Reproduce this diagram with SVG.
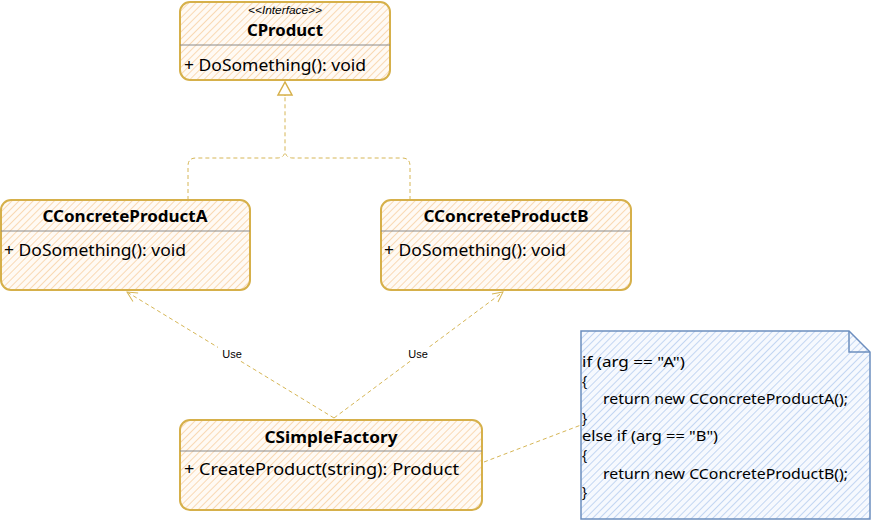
<svg xmlns="http://www.w3.org/2000/svg" width="871" height="521" viewBox="0 0 871 521">
  <defs>
    <pattern id="hatchOrange" width="5" height="5" patternUnits="userSpaceOnUse" patternTransform="rotate(45)">
      <rect width="5" height="5" fill="#fffaf4"/>
      <line x1="0" y1="0" x2="0" y2="5" stroke="#f9d9b4" stroke-width="2"/>
    </pattern>
    <pattern id="hatchBlue" width="5" height="5" patternUnits="userSpaceOnUse" patternTransform="rotate(45)">
      <rect width="5" height="5" fill="#f6f9fe"/>
      <line x1="0" y1="0" x2="0" y2="5" stroke="#c3d6f2" stroke-width="2"/>
    </pattern>
    <marker id="openArrow" viewBox="0 0 12 12" refX="11" refY="6" markerWidth="12" markerHeight="12" markerUnits="userSpaceOnUse" orient="auto">
      <path d="M1,1 L11,6 L1,11" fill="none" stroke="#d6b656" stroke-width="1"/>
    </marker>
  </defs>
  <style>
    .box { fill: url(#hatchOrange); stroke: #d6b04a; stroke-width: 2; }
    .div { stroke: #8a8a8a; stroke-width: 1; }
    .title { font-family: "Comic Sans MS", "Noto Sans", sans-serif; font-size: 16px; font-weight: bold; fill: #000; text-anchor: middle; }
    .member { font-family: "Comic Sans MS", "Noto Sans", sans-serif; font-size: 16px; fill: #000; }
    .stereo { font-family: "Liberation Sans", Arial, sans-serif; font-size: 10px; font-style: italic; fill: #000; text-anchor: middle; }
    .link { fill: none; stroke: #d6b656; stroke-width: 1; stroke-dasharray: 4 3; }
    .label { font-family: "Liberation Sans", Arial, sans-serif; font-size: 11px; fill: #000; text-anchor: middle; }
    .note { fill: url(#hatchBlue); stroke: #6c8ebf; stroke-width: 1.5; }
    .code { font-family: "Comic Sans MS", "Noto Sans", sans-serif; font-size: 13.5px; fill: #000; }
  </style>
  <rect width="871" height="521" fill="#ffffff"/>

  <!-- connectors -->
  <g id="connectors">
    <!-- realization: both concrete products to CProduct -->
    <path class="link" d="M188,200 L188,166 Q188,158 196,158 L277,158 Q285,158 285,150 L285,96"/>
    <path class="link" d="M410,200 L410,166 Q410,158 402,158 L293,158 Q285,158 285,150"/>
    <path d="M285,96 L285,84" stroke="#d6b656" stroke-width="1.2"/>
    <polygon points="285,82 278,95 292,95" fill="#ffffff" stroke="#d6b04a" stroke-width="1.5"/>
    <!-- factory uses products -->
    <path class="link" d="M334,418 L127,292" marker-end="url(#openArrow)"/>
    <path class="link" d="M334,418 L503,292" marker-end="url(#openArrow)"/>
    <rect x="218" y="347" width="28" height="14" fill="#ffffff"/>
    <text class="label" x="232" y="358">Use</text>
    <rect x="404" y="347" width="28" height="14" fill="#ffffff"/>
    <text class="label" x="418" y="358">Use</text>
    <!-- note attachment -->
    <path class="link" d="M484,462 L581,425"/>
  </g>

  <!-- interface -->
  <g id="CProduct">
    <rect class="box" x="180" y="2" width="210" height="78" rx="10"/>
    <line class="div" x1="180" y1="45" x2="390" y2="45"/>
    <text class="stereo" x="285" y="14" textLength="74" lengthAdjust="spacingAndGlyphs">&lt;&lt;Interface&gt;&gt;</text>
    <text class="title" x="285" y="36" textLength="76" lengthAdjust="spacingAndGlyphs">CProduct</text>
    <text class="member" x="184" y="71" textLength="182" lengthAdjust="spacingAndGlyphs">+ DoSomething(): void</text>
  </g>

  <g id="CConcreteProductA">
    <rect class="box" x="1" y="200" width="249" height="90" rx="10"/>
    <line class="div" x1="1" y1="231" x2="250" y2="231"/>
    <text class="title" x="125" y="222" textLength="165" lengthAdjust="spacingAndGlyphs">CConcreteProductA</text>
    <text class="member" x="4" y="256" textLength="182" lengthAdjust="spacingAndGlyphs">+ DoSomething(): void</text>
  </g>

  <g id="CConcreteProductB">
    <rect class="box" x="381" y="200" width="250" height="90" rx="10"/>
    <line class="div" x1="381" y1="231" x2="631" y2="231"/>
    <text class="title" x="506" y="222" textLength="165" lengthAdjust="spacingAndGlyphs">CConcreteProductB</text>
    <text class="member" x="384" y="256" textLength="182" lengthAdjust="spacingAndGlyphs">+ DoSomething(): void</text>
  </g>

  <g id="CSimpleFactory">
    <rect class="box" x="180" y="420" width="302" height="90" rx="10"/>
    <line class="div" x1="180" y1="451" x2="482" y2="451"/>
    <text class="title" x="331" y="443" textLength="133" lengthAdjust="spacingAndGlyphs">CSimpleFactory</text>
    <text class="member" x="184" y="475" textLength="275" lengthAdjust="spacingAndGlyphs">+ CreateProduct(string): Product</text>
  </g>

  <!-- code note -->
  <g id="note">
    <path class="note" d="M581,331 L849,331 L870,352 L870,519 L581,519 Z"/>
    <path d="M849,331 L849,352 L870,352" fill="none" stroke="#6c8ebf" stroke-width="1.5"/>
    <text class="code" x="582" y="367" textLength="103" lengthAdjust="spacingAndGlyphs">if (arg == "A")</text>
    <text class="code" x="582" y="385.6">{</text>
    <text class="code" x="603" y="404.2" textLength="245" lengthAdjust="spacingAndGlyphs">return new CConcreteProductA();</text>
    <text class="code" x="582" y="422.8">}</text>
    <text class="code" x="582" y="441.4" textLength="136" lengthAdjust="spacingAndGlyphs">else if (arg == "B")</text>
    <text class="code" x="582" y="460">{</text>
    <text class="code" x="603" y="478.6" textLength="245" lengthAdjust="spacingAndGlyphs">return new CConcreteProductB();</text>
    <text class="code" x="582" y="497.2">}</text>
  </g>
</svg>
